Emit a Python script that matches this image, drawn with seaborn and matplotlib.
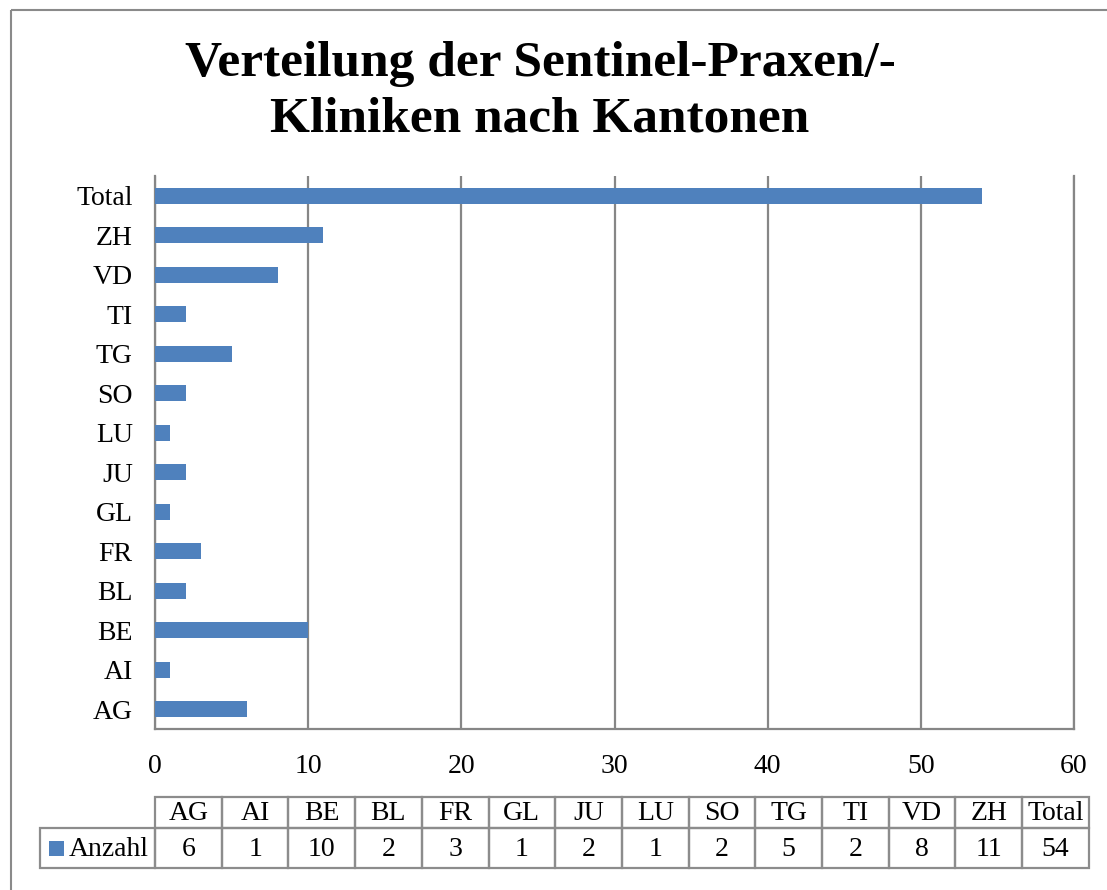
import matplotlib
matplotlib.use("Agg")
import matplotlib.pyplot as plt
import seaborn as sns
import pandas as pd
from matplotlib.patches import Rectangle

# ---- data ----
categories = ["AG", "AI", "BE", "BL", "FR", "GL", "JU", "LU", "SO", "TG", "TI", "VD", "ZH", "Total"]
values = [6, 1, 10, 2, 3, 1, 2, 1, 2, 5, 2, 8, 11, 54]
series_name = "Anzahl"
title_lines = ["Verteilung der Sentinel-Praxen/-", "Kliniken nach Kantonen"]
x_ticks = [0, 10, 20, 30, 40, 50, 60]

BAR = "#4F81BD"
GRID = "#868686"
W, H = 1107, 890

sns.set_theme(style="white")
plt.rcParams["font.family"] = ["Liberation Serif", "DejaVu Serif"]
plt.rcParams["text.color"] = "black"

df = pd.DataFrame({"Kanton": categories, series_name: values})
order = categories[::-1]  # Total at top

fig = plt.figure(figsize=(W / 100, H / 100), dpi=100)
fig.patch.set_facecolor("white")

# plot area in pixels: x 155..1074, y 176..729
ax = fig.add_axes([155 / W, 1 - 729 / H, (1074 - 155) / W, (729 - 176) / H])
sns.barplot(data=df, y="Kanton", x=series_name, order=order, orient="h",
            color=BAR, saturation=1, width=0.4, linewidth=0, ax=ax, zorder=3)
ax.set_xlim(0, 60)
ax.set_ylim(len(order) - 0.5, -0.5)
ax.set_xticks(x_ticks)
ax.set_xlabel("")
ax.set_ylabel("")
ax.xaxis.grid(True, color=GRID, linewidth=1.6, zorder=0)
ax.yaxis.grid(False)
ax.set_axisbelow(True)
for s in ["left", "bottom", "right"]:
    ax.spines[s].set_visible(True)
    ax.spines[s].set_color(GRID)
    ax.spines[s].set_linewidth(1.6)
ax.spines["top"].set_visible(False)
ax.tick_params(axis="x", length=0, pad=18, labelsize=20, colors="black")
ax.tick_params(axis="y", length=0, pad=16, labelsize=20, colors="black")
ax.set_facecolor("white")

# overlay axes in pixel coordinates for border and title
ov = fig.add_axes([0, 0, 1, 1], zorder=-1)
ov.set_xlim(0, W)
ov.set_ylim(H, 0)
ov.axis("off")
ov.patch.set_alpha(0)

# outer chart border
ov.add_patch(Rectangle((11, 10), 1300, 1000, fill=False, edgecolor="#8a8a8a", linewidth=1.5))

# title
ov.text(540, 76, title_lines[0], ha="center", va="baseline", fontsize=37,
        fontweight="bold", color="black")
ov.text(540, 131, title_lines[1], ha="center", va="baseline", fontsize=37,
        fontweight="bold", color="black")

# data table
tab = fig.add_axes([0, 0, 1, 1], zorder=5)
tab.set_xlim(0, W)
tab.set_ylim(H, 0)
tab.axis("off")
tab.patch.set_alpha(0)
LINE = "#8c8c8c"
x0, cw = 155, 66.7
y_top, y_mid, y_bot = 797, 828, 868
legend_left = 40
for i, (cat, val) in enumerate(zip(categories, values)):
    xl = x0 + i * cw
    tab.add_patch(Rectangle((xl, y_top), cw, y_mid - y_top, fill=False, edgecolor=LINE, linewidth=1.6))
    tab.add_patch(Rectangle((xl, y_mid), cw, y_bot - y_mid, fill=False, edgecolor=LINE, linewidth=1.6))
    tab.text(xl + cw / 2, (y_top + y_mid) / 2 + 1, cat, ha="center", va="center",
             fontsize=20, color="black")
    tab.text(xl + cw / 2, (y_mid + y_bot) / 2 + 1, str(val), ha="center", va="center",
             fontsize=20, color="black")
tab.add_patch(Rectangle((legend_left, y_mid), x0 - legend_left, y_bot - y_mid, fill=False,
                        edgecolor=LINE, linewidth=1.6))
tab.add_patch(Rectangle((49, 841), 15, 15, facecolor=BAR, edgecolor="none"))
tab.text(69, (y_mid + y_bot) / 2 + 1, series_name, ha="left", va="center",
         fontsize=20, color="black")

fig.savefig("out.png", dpi=100)
